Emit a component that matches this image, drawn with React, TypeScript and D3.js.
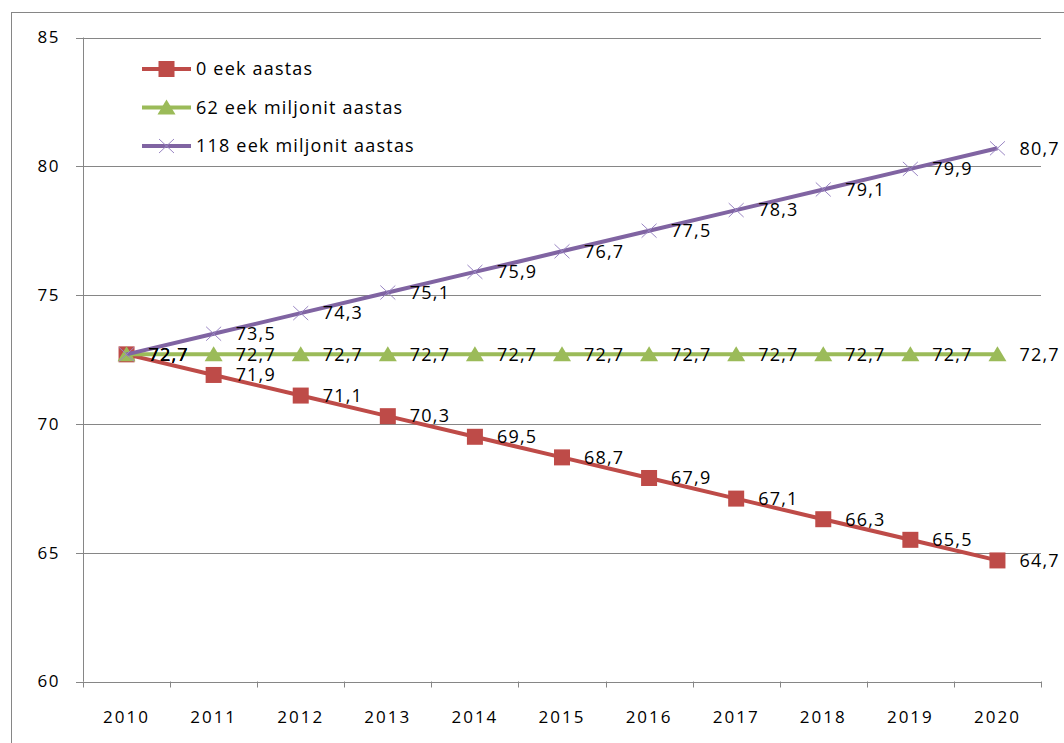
import React from "react";
import * as d3 from "d3";

const years = ["2010","2011","2012","2013","2014","2015","2016","2017","2018","2019","2020"];
const series0 = [72.7, 71.9, 71.1, 70.3, 69.5, 68.7, 67.9, 67.1, 66.3, 65.5, 64.7];
const series62 = [72.7, 72.7, 72.7, 72.7, 72.7, 72.7, 72.7, 72.7, 72.7, 72.7, 72.7];
const series118 = [72.7, 73.5, 74.3, 75.1, 75.9, 76.7, 77.5, 78.3, 79.1, 79.9, 80.7];
const seriesNames = ["0 eek aastas", "62 eek miljonit aastas", "118 eek miljonit aastas"];
const yTicks = [60, 65, 70, 75, 80, 85];

const FONT = "'Open Sans', Lato, sans-serif";
const colors = ["#BE4B48", "#9BBB59", "#8064A2"];
const markers = ["square", "triangle", "x"];

function Marker({ type, x, y, color }: { type: string; x: number; y: number; color: string }) {
  if (type === "square") return <rect x={x - 8} y={y - 8} width={16} height={16} fill={color} />;
  if (type === "triangle") {
    const p = d3.path();
    p.moveTo(x, y - 8);
    p.lineTo(x + 9, y + 7);
    p.lineTo(x - 9, y + 7);
    p.closePath();
    return <path d={p.toString()} fill={color} />;
  }
  return (
    <g stroke="#9A86C4" strokeWidth={1}>
      <line x1={x - 7.5} y1={y - 7} x2={x + 7.5} y2={y + 7} />
      <line x1={x - 7.5} y1={y + 7} x2={x + 7.5} y2={y - 7} />
    </g>
  );
}

export default function App() {
  const W = 1064, H = 743;
  const left = 83, right = 1041, top = 37.5, bottom = 681.5;
  const x = d3.scaleBand<string>().domain(years).range([left, right]);
  const y = d3.scaleLinear().domain([60, 85]).range([bottom, top]);
  const cx = (yr: string) => (x(yr) as number) + x.bandwidth() / 2;
  const data = [series0, series62, series118];
  const line = d3.line<number>().x((_, i) => cx(years[i])).y((v) => y(v));
  const fmt = (v: number) => v.toFixed(1).replace(".", ",");
  const grid = "#868686";
  const boundaries = years.map((yr) => x(yr) as number).concat([right]);

  return (
    <svg width={W} height={H} style={{ position: "absolute", left: 0, top: 0, background: "#fff" }}>
      <rect x={11.5} y={12.5} width={1070} height={760} fill="#fff" stroke={grid} strokeWidth={1} />
      {yTicks.map((t) => (
        <g key={t}>
          <line x1={76} x2={right} y1={Math.round(y(t)) + 0.5} y2={Math.round(y(t)) + 0.5} stroke={grid} strokeWidth={1} />
          <text x={60} y={y(t)} dy="0.35em" textAnchor="end" fontFamily={FONT} fontSize={17} letterSpacing={1.5} fill="#000">{t}</text>
        </g>
      ))}
      <line x1={left + 0.5} x2={left + 0.5} y1={top} y2={bottom} stroke={grid} strokeWidth={1} />
      {boundaries.map((b, i) => (
        <line key={i} x1={Math.round(b) + 0.5} x2={Math.round(b) + 0.5} y1={bottom} y2={bottom + 6} stroke={grid} strokeWidth={1} />
      ))}
      {years.map((yr) => (
        <text key={yr} x={cx(yr)} y={717} dy="0.35em" textAnchor="middle" fontFamily={FONT} fontSize={17} letterSpacing={2} fill="#000">{yr}</text>
      ))}
      {data.map((s, si) => (
        <g key={si}>
          <path d={line(s) as string} fill="none" stroke={colors[si]} strokeWidth={4} strokeLinejoin="round" />
          {s.map((v, i) => (
            <Marker key={i} type={markers[si]} x={cx(years[i])} y={y(v)} color={colors[si]} />
          ))}
        </g>
      ))}
      {data.map((s, si) => (
        <g key={"l" + si}>
          {s.map((v, i) => (
            <text key={i} x={cx(years[i]) + 22} y={y(v)} dy="0.35em" fontFamily={FONT} fontSize={18} letterSpacing={1.2} fill="#000">{fmt(v)}</text>
          ))}
        </g>
      ))}
      {seriesNames.map((n, i) => {
        const ly = 69 + i * 38.5;
        return (
          <g key={n}>
            <line x1={142} x2={191} y1={ly} y2={ly} stroke={colors[i]} strokeWidth={4} />
            <Marker type={markers[i]} x={166.5} y={ly} color={colors[i]} />
            <text x={196} y={ly} dy="0.35em" fontFamily={FONT} fontSize={18} letterSpacing={1.2} fill="#000">{n}</text>
          </g>
        );
      })}
    </svg>
  );
}
